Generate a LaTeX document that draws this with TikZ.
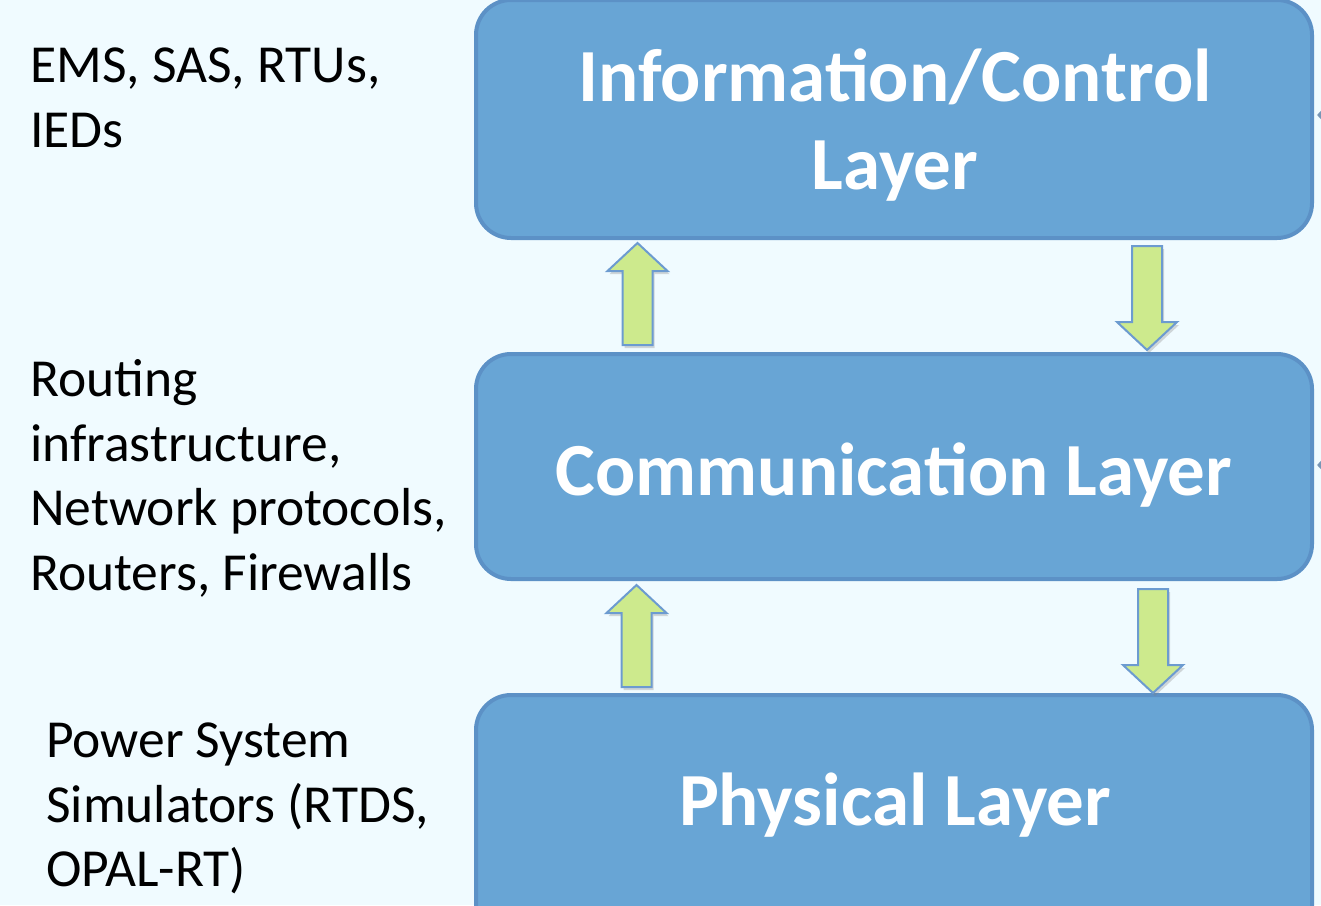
\documentclass[tikz,border=0pt]{standalone}
\usepackage{fontspec}
\setmainfont{Carlito}
\usetikzlibrary{calc,shadows,arrows.meta}
\definecolor{bgc}{RGB}{240,251,255}
\definecolor{boxfill}{RGB}{104,165,213}
\definecolor{boxline}{RGB}{92,145,198}
\definecolor{arrfill}{RGB}{205,234,141}
\definecolor{arrline}{RGB}{108,155,208}
\definecolor{sidec}{RGB}{120,150,182}
\newcommand\blockarrow[2]{%
  \draw[blockarr] let \p1=(#1), \p2=(#2), \p3=($(#2)!28pt!(#1)$) in
    (\x1-15pt,\y1) -- (\x1-15pt,\y3) -- (\x1-30pt,\y3) -- (\x2,\y2) --
    (\x1+30pt,\y3) -- (\x1+15pt,\y3) -- (\x1+15pt,\y1) -- cycle;}
\begin{document}
\begin{tikzpicture}[x=1pt,y=-1pt,
  layerbox/.style={draw=boxline, fill=boxfill, line width=4pt, rounded corners=35pt,
    minimum width=836pt, inner sep=0pt},
  layertext/.style={text=white, font=\fontsize{75}{88}\selectfont\bfseries, inner sep=0pt, anchor=base},
  sidetext/.style={font=\fontsize{53.5}{64.5}\selectfont, align=left, inner sep=0pt, anchor=base west},
  blockarr/.style={draw=arrline, fill=arrfill, line width=2pt, line join=miter,
    drop shadow={opacity=0.3, shadow xshift=2pt, shadow yshift=-3pt}},
  sidearr/.style={draw=sidec, line width=3pt, -{Triangle[length=8pt,width=16pt]}}]
\fill[bgc] (0,0) rectangle (1321,905);
\useasboundingbox (0,0) rectangle (1321,905);
\clip (0,0) rectangle (1321,905);

\node[layerbox, minimum height=238pt] (info) at (894,119) {};
\node[layerbox, minimum height=225pt] (comm) at (894,466.5) {};
\node[layerbox, minimum height=250pt] (phys) at (894,820) {};

\node[layertext] (infot1) at (895,101) {Information/Control};
\node[layertext] (infot2) at (895,189) {Layer};
\node[layertext] (commt) at (894,495.7) {Communication Layer};
\node[layertext] (physt) at (895,825) {Physical Layer};

% base anchor of a multi-line node = baseline of its last line
\node[sidetext] (ems) at (30,147.3) {EMS, SAS, RTUs,\\IEDs};
\node[sidetext] (route) at (30,590.2) {Routing\\infrastructure,\\Network protocols,\\Routers, Firewalls};
\node[sidetext] (power) at (46,886.7) {Power System\\Simulators (RTDS,\\OPAL-RT)};

\coordinate (u1x) at (637.5,0);
\coordinate (d1x) at (1147,0);
\coordinate (u2x) at (636.5,0);
\coordinate (d2x) at (1153,0);
\coordinate (u1tail) at ($(u1x |- comm.north)+(0,-7)$);
\coordinate (u1tip) at ($(u1x |- info.south)+(0,3)$);
\coordinate (d1tail) at ($(d1x |- info.south)+(0,6)$);
\coordinate (d1tip) at ($(d1x |- comm.north)+(0,-2)$);
\coordinate (u2tail) at ($(u2x |- phys.north)+(0,-6)$);
\coordinate (u2tip) at ($(u2x |- comm.south)+(0,4)$);
\coordinate (d2tail) at ($(d2x |- comm.south)+(0,8)$);
\coordinate (d2tip) at (d2x |- phys.north);
\blockarrow{u1tail}{u1tip}
\blockarrow{d1tail}{d1tip}
\blockarrow{u2tail}{u2tip}
\blockarrow{d2tail}{d2tip}

\coordinate (ext1) at (1360,115);
\coordinate (ext2) at (1360,465);
\draw[sidearr] (ext1) -- ($(ext1 -| info.east)+(3,0)$);
\draw[sidearr] (ext2) -- ($(ext2 -| comm.east)+(3,0)$);
\end{tikzpicture}
\end{document}
